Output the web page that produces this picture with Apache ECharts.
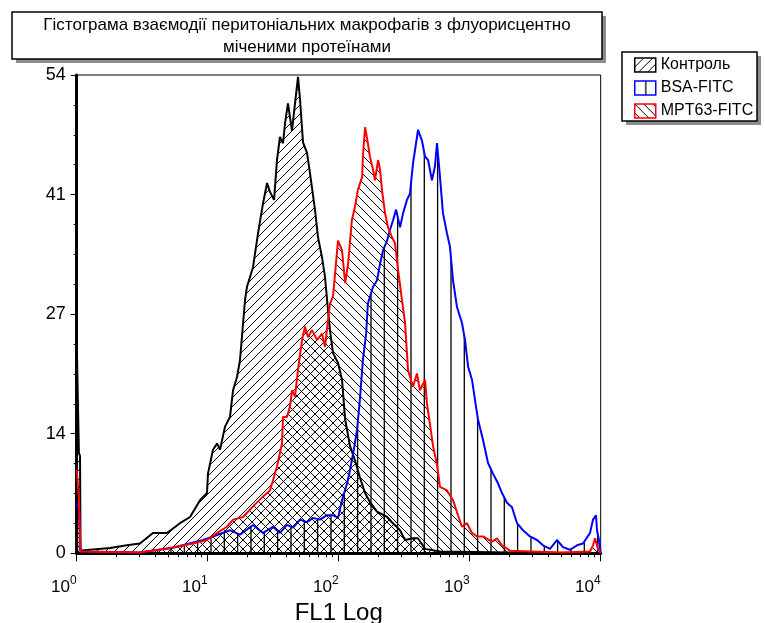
<!DOCTYPE html>
<html><head><meta charset="utf-8">
<script src="https://cdn.jsdelivr.net/npm/echarts@6/dist/echarts.min.js"></script>
<style>html,body{margin:0;padding:0;background:#fff}#c{width:765px;height:623px}</style>
</head><body><div id="c"></div>
<script>
const titleLines = ['Гістограма взаємодії перитоніальних макрофагів з флуорисцентно', 'міченими протеїнами'];
const seriesNames = ['Контроль', 'BSA-FITC', 'MPT63-FITC'];
const seriesColors = ['#000000', '#0000ff', '#ff0000'];
const xAxisName = 'FL1 Log';
const xDecades = [0, 1, 2, 3, 4];
const xMinorFactors = [2, 3, 4, 5, 6, 7, 8, 9];
const yTickValues = [0, 13.5, 27, 40.5, 54];

// [FL1 value, count]
const controlData = [[1.0,24],[1.02,24],[1.04,11.3],[1.06,11],[1.07,0.3],[1.26,0.4],[1.80,0.6],[2.42,0.9],[3.04,1.1],[3.82,2.3],[4.89,2.3],[6.14,3.4],[7.33,4.1],[8.74,6.0],[9.88,6.8],[10.05,9.0],[10.98,11.7],[11.78,12.4],[12.41,11.7],[13.56,14.3],[14.80,15.4],[15.61,18.4],[16.74,19.9],[17.64,21.8],[19.27,28.6],[19.95,30.1],[22.18,32.3],[24.2,36.1],[26.43,39.5],[28.4,41.8],[29.9,40.8],[32.1,39.9],[33.8,44.4],[35.6,47.0],[37.6,46.3],[38.9,48.5],[41.0,50.8],[44.0,47.7],[46.4,50.8],[48.9,53.8],[50.7,51.2],[53.4,46.4],[57.3,45.2],[60.4,42.9],[65.9,38.8],[69.5,35.7],[74.6,33.4],[78.6,31.2],[82.8,27.5],[85.8,25.2],[90.5,22.6],[98.8,21.5],[106,19.6],[112,15.1],[122,12.1],[133,10.5],[145,8.6],[159,6.8],[173,5.8],[196,4.7],[234,4.1],[255,3.5],[294,2.6],[321,1.5],[369,1.7],[403,1.7],[456,0.5],[593,0.2],[2000,0.1],[10000,0]];
const bsaData = [[1.0,5.6],[1.02,5.6],[1.04,5.0],[1.06,4.8],[1.07,0.2],[3.0,0.1],[5.34,0.6],[9.21,1.5],[10.98,1.9],[14.80,2.6],[17.64,2.1],[22.18,3.2],[26.43,2.3],[31.5,3.0],[35.6,2.3],[40.3,3.2],[44.8,2.9],[50.7,3.8],[57.3,3.5],[63.7,4.0],[72.0,3.8],[81.4,4.3],[90.5,4.3],[98.8,4.0],[106,6.0],[116,7.9],[122,9.4],[129,11.3],[138,13.9],[145,17.3],[153,21.8],[162,24.8],[167,28.2],[183,30.1],[196,30.8],[207,32.7],[218,34.2],[234,35.3],[246,36.5],[260,37.6],[274,38.8],[294,36.8],[310,38.4],[332,39.9],[350,40.6],[369,44.0],[396,47.0],[403,47.8],[432,46.6],[456,44.8],[481,44.4],[515,42.1],[543,43.7],[563,46.3],[593,42.5],[625,38.4],[671,36.1],[707,34.6],[746,30.8],[800,27.8],[873,26.0],[921,24.1],[971,21.1],[1041,19.6],[1098,17.3],[1157,15.1],[1264,12.8],[1380,10.2],[1506,9.0],[1644,7.9],[1764,6.8],[1926,5.7],[2103,5.2],[2297,3.4],[2552,2.6],[2886,1.9],[3264,1.5],[3627,0.9],[4102,0.5],[4638,1.5],[5155,0.7],[5830,0.4],[6594,0.9],[7328,1.1],[8286,2.3],[8735,3.8],[9206,4.3],[9371,2.6],[9705,1.5],[10000,0]];
const mptData = [[1.0,9.4],[1.02,9.4],[1.04,6.2],[1.06,6.0],[1.07,0.2],[3.0,0.1],[5.15,0.6],[7.72,1.1],[9.88,1.5],[11.78,2.3],[14.04,3.0],[15.61,3.8],[18.60,4.1],[22.18,5.3],[26.43,6.4],[29.9,7.1],[33.8,9.8],[36.9,12.4],[37.6,15.4],[40.3,15.4],[42.5,16.6],[44.0,18.4],[46.4,17.7],[48.9,20.7],[52.5,24.1],[55.3,25.6],[58.3,24.4],[62.5,25.2],[68.3,24.1],[74.6,24.8],[78.6,23.3],[82.8,26.3],[85.8,28.2],[90.5,29.0],[98.8,35.3],[106,34.2],[112,30.5],[118,32.7],[126,37.6],[133,39.1],[140,41.0],[151,42.5],[153,44.8],[159,48.1],[167,46.3],[173,44.8],[183,43.3],[189,42.1],[200,44.4],[207,43.3],[214,41.0],[226,38.4],[238,36.8],[255,35.7],[269,35.0],[284,32.0],[304,28.6],[321,26.0],[338,20.7],[369,18.8],[396,20.3],[417,18.4],[456,19.6],[472,16.9],[498,14.5],[525,12.1],[563,10.0],[593,7.5],[671,7.1],[746,6.0],[814,4.3],[873,3.0],[954,3.4],[1041,2.3],[1137,1.9],[1264,1.9],[1480,1.3],[1616,1.7],[1764,0.9],[2030,0.3],[5000,0.1],[8286,0.2],[8735,0.9],[9046,1.7],[9537,0.5],[10000,0]];

function hatch(kind) {
  const c = document.createElement('canvas');
  const ctx = c.getContext('2d');
  ctx.strokeStyle = '#1a1a1a';
  if (kind === 'v') {
    c.width = 40; c.height = 40;
    ctx.lineWidth = 1.3;
    [11, 24.3, 37.6].forEach(x => { ctx.beginPath(); ctx.moveTo(x, 0); ctx.lineTo(x, 40); ctx.stroke(); });
  } else {
    const s = 9;
    c.width = s; c.height = s;
    ctx.lineWidth = 1;
    ctx.beginPath();
    if (kind === '/') {
      ctx.moveTo(-1, s + 1); ctx.lineTo(s + 1, -1);
      ctx.moveTo(-2, 1); ctx.lineTo(1, -2);
      ctx.moveTo(s - 1, s + 2); ctx.lineTo(s + 2, s - 1);
    } else {
      ctx.moveTo(-1, -1); ctx.lineTo(s + 1, s + 1);
      ctx.moveTo(s - 1, -2); ctx.lineTo(s + 2, 1);
      ctx.moveTo(-2, s - 1); ctx.lineTo(1, s + 2);
    }
    ctx.stroke();
  }
  return { image: c, repeat: 'repeat' };
}
const patterns = [hatch('/'), hatch('v'), hatch('\\')];
const datasets = [controlData, bsaData, mptData];

const toLog = arr => arr.map(p => [Math.log10(p[0]), p[1]]);
const minorTickValues = [];
xDecades.slice(0, -1).forEach(d => xMinorFactors.forEach(f => minorTickValues.push(d + Math.log10(f))));

const order = [0, 2, 1];
const series = order.map(i => ({
  name: seriesNames[i], type: 'line', data: toLog(datasets[i]),
  showSymbol: false, symbol: 'none', animation: false,
  lineStyle: { color: seriesColors[i], width: 2 },
  itemStyle: { color: seriesColors[i] },
  areaStyle: { color: patterns[i], opacity: 1 },
  z: 2 + i
}));

const chart = echarts.init(document.getElementById('c'), null, { renderer: 'canvas' });
const FONT = 'Liberation Sans, Arial, sans-serif';
chart.setOption({
  animation: false,
  textStyle: { fontFamily: FONT },
  grid: { left: 76.7, right: 164.3, top: 75, bottom: 69.7, outerBoundsMode: 'none', containLabel: false,
          show: true, borderColor: '#000', borderWidth: 1, backgroundColor: 'transparent' },
  xAxis: [{
    type: 'value', min: 0, max: 4, interval: 1, position: 'bottom',
    name: xAxisName, nameLocation: 'middle', nameGap: 42,
    nameTextStyle: { fontSize: 24, color: '#000', fontFamily: FONT },
    axisLine: { onZero: false, lineStyle: { color: '#000', width: 3 } },
    axisTick: { length: 8, lineStyle: { color: '#000', width: 1 } },
    splitLine: { show: false },
    axisLabel: {
      margin: 21, align: 'right', color: '#000',
      formatter: v => '{b|10}{s|' + v + '}',
      rich: { b: { fontSize: 17, lineHeight: 22, verticalAlign: 'bottom', fontFamily: FONT, color: '#000' },
              s: { fontSize: 12, lineHeight: 22, verticalAlign: 'top', fontFamily: FONT, color: '#000' } }
    }
  }, {
    type: 'value', min: 0, max: 4, position: 'bottom', gridIndex: 0,
    axisLine: { show: false }, axisLabel: { show: false }, splitLine: { show: false },
    axisTick: { show: true, customValues: minorTickValues, length: 4, lineStyle: { color: '#000', width: 1 } }
  }],
  yAxis: {
    type: 'value', min: 0, max: 54, interval: 13.5,
    axisLine: { show: true, lineStyle: { color: '#000', width: 3 } },
    axisTick: { show: true, length: 6, lineStyle: { color: '#000' } },
    minorTick: { show: true, splitNumber: 4, length: 3, lineStyle: { color: '#000' } },
    splitLine: { show: false }, minorSplitLine: { show: false },
    axisLabel: { fontSize: 18, color: '#000', margin: 11, formatter: v => String(Math.round(v)) }
  },
  legend: {
    orient: 'vertical', left: 634, top: 57, padding: 0,
    itemWidth: 21, itemHeight: 14, itemGap: 7, selectedMode: false,
    textStyle: { fontSize: 16, color: '#000', lineHeight: 14, fontFamily: FONT },
    data: seriesNames.map((n, i) => ({ name: n, icon: 'rect',
      itemStyle: { color: patterns[i], borderColor: seriesColors[i], borderWidth: 1.5 } }))
  },
  graphic: [
    { type: 'rect', z: 0, shape: { x: 16, y: 16, width: 590, height: 47 }, style: { fill: '#8c8c8c' } },
    { type: 'rect', z: 1, shape: { x: 12, y: 12, width: 590, height: 47 }, style: { fill: '#fff', stroke: '#000', lineWidth: 1.5 } },
    { type: 'text', z: 2, x: 307, y: 25, style: { text: titleLines[0], align: 'center', verticalAlign: 'middle', fontSize: 17, fontFamily: FONT, fill: '#000' } },
    { type: 'text', z: 2, x: 307, y: 47, style: { text: titleLines[1], align: 'center', verticalAlign: 'middle', fontSize: 17, fontFamily: FONT, fill: '#000' } },
    { type: 'rect', z: 0, shape: { x: 626, y: 56, width: 135, height: 69 }, style: { fill: '#8c8c8c' } },
    { type: 'rect', z: 1, shape: { x: 622, y: 52, width: 135, height: 69 }, style: { fill: '#fff', stroke: '#000', lineWidth: 1.5 } }
  ],
  series: series
});
</script></body></html>
